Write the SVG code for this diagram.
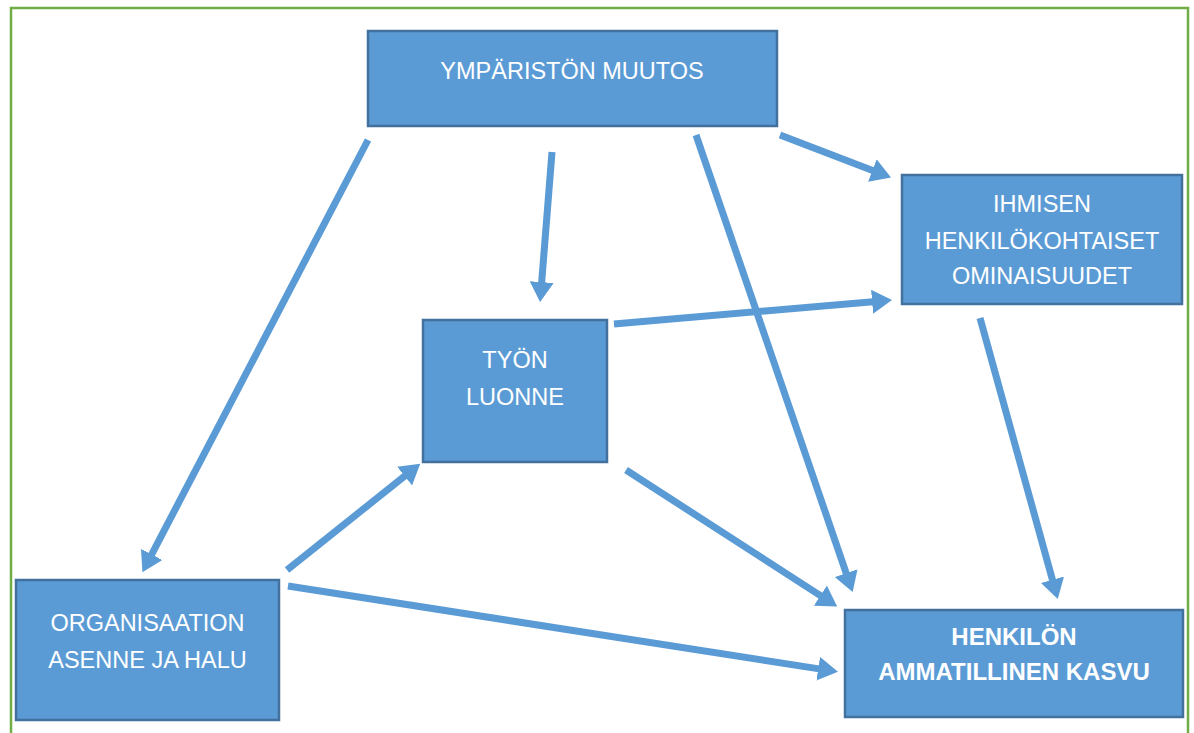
<svg xmlns="http://www.w3.org/2000/svg" width="1194" height="733" viewBox="0 0 1194 733">
<style>
.box{fill:#5B9BD5;stroke:#41719C;stroke-width:2.5}
.t{font-family:"Liberation Sans",Arial,sans-serif;font-size:23.5px;fill:#fff;text-anchor:middle}
.b{font-weight:bold;font-size:24px}
.c{stroke:#5B9BD5;stroke-width:7;fill:none;marker-end:url(#ah)}
</style>
<defs>
<marker id="ah" markerUnits="userSpaceOnUse" markerWidth="21" markerHeight="24" viewBox="0 0 21 24" refX="1" refY="12" orient="auto">
<path d="M0,0 L20,12 L0,24 z" fill="#5B9BD5"/>
</marker>
</defs>
<rect x="0" y="0" width="1194" height="733" fill="#fff"/>
<rect x="11" y="8" width="1177" height="740" fill="none" stroke="#70AD47" stroke-width="2.5"/>
<g id="connectors">
<line class="c" x1="368" y1="140" x2="151.2" y2="555.3"/>
<line class="c" x1="552" y1="152" x2="541.6" y2="283.1"/>
<line class="c" x1="696" y1="135" x2="846.5" y2="574.1"/>
<line class="c" x1="780" y1="135" x2="873.3" y2="170.8"/>
<line class="c" x1="614" y1="324" x2="873.1" y2="301.7"/>
<line class="c" x1="980" y1="318" x2="1052.7" y2="580.7"/>
<line class="c" x1="626" y1="470" x2="821.2" y2="596.1"/>
<line class="c" x1="287" y1="570" x2="405.4" y2="475.5"/>
<line class="c" x1="288" y1="586" x2="819.2" y2="668.9"/>
</g>
<g id="ymparisto">
<rect class="box" x="368" y="31" width="409" height="95"/>
<text class="t" x="572" y="79">YMPÄRISTÖN MUUTOS</text>
</g>
<g id="ihminen">
<rect class="box" x="902" y="175" width="280" height="129"/>
<text class="t" x="1042" y="212">IHMISEN</text>
<text class="t" x="1042" y="249">HENKILÖKOHTAISET</text>
<text class="t" x="1042" y="284">OMINAISUUDET</text>
</g>
<g id="tyon">
<rect class="box" x="423" y="320" width="184" height="142"/>
<text class="t" x="515" y="368">TYÖN</text>
<text class="t" x="515" y="405">LUONNE</text>
</g>
<g id="organisaatio">
<rect class="box" x="16" y="580" width="263" height="140"/>
<text class="t" x="147.5" y="631">ORGANISAATION</text>
<text class="t" x="147.5" y="668">ASENNE JA HALU</text>
</g>
<g id="henkilo">
<rect class="box" x="845" y="610" width="338" height="107"/>
<text class="t b" x="1014" y="645">HENKILÖN</text>
<text class="t b" x="1014" y="680">AMMATILLINEN KASVU</text>
</g>
</svg>
